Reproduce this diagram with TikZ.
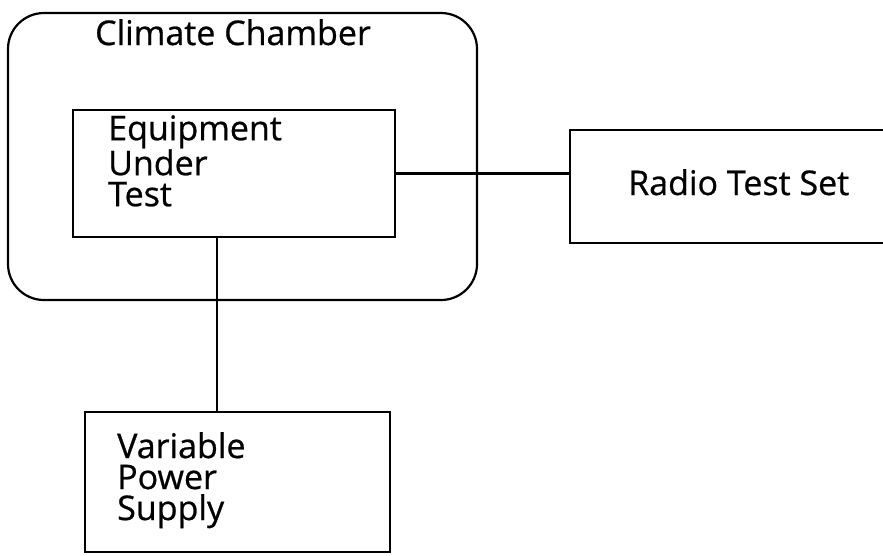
\documentclass[tikz,border=0pt]{standalone}
\usepackage{fontspec}
\setmainfont{Open Sans}
\newfontfamily\lblfont{Open Sans}[FakeBold=0.7]
\begin{document}
\begin{tikzpicture}[x=1pt,y=-1pt,
  box/.style={draw, line width=2.2pt, inner sep=0pt, rectangle},
  lbl/.style={inner sep=0pt, font=\lblfont\fontsize{34}{31}\selectfont, align=left},
  wire/.style={line width=2.2pt}]
\useasboundingbox (0,0) rectangle (883,555);
\node[box, rounded corners=36pt, minimum width=469pt, minimum height=287pt] (chamber) at (242.5,156.5) {};
\node[box, minimum width=322pt, minimum height=127pt] (eut) at (234,173.5) {};
\node[box, minimum width=330pt, minimum height=113pt] (radio) at (735,186.5) {};
\node[box, minimum width=305pt, minimum height=140pt] (vps) at (237.5,482) {};
\node[lbl, anchor=base] (tchamber) at (233,45) {Climate Chamber};
\node[lbl, anchor=north west] (teut) at (108,115) {Equipment\\Under\\Test};
\node[lbl, anchor=base west] (tradio) at (628,195) {Radio Test Set};
\node[lbl, anchor=north west] (tvps) at (117,432) {Variable\\Power\\Supply};
\draw[wire] (eut.east) -- (eut.east -| radio.west);
\draw[wire] ([xshift=-17pt]eut.south) -- ([xshift=-17pt]eut.south |- vps.north);
\end{tikzpicture}
\end{document}
